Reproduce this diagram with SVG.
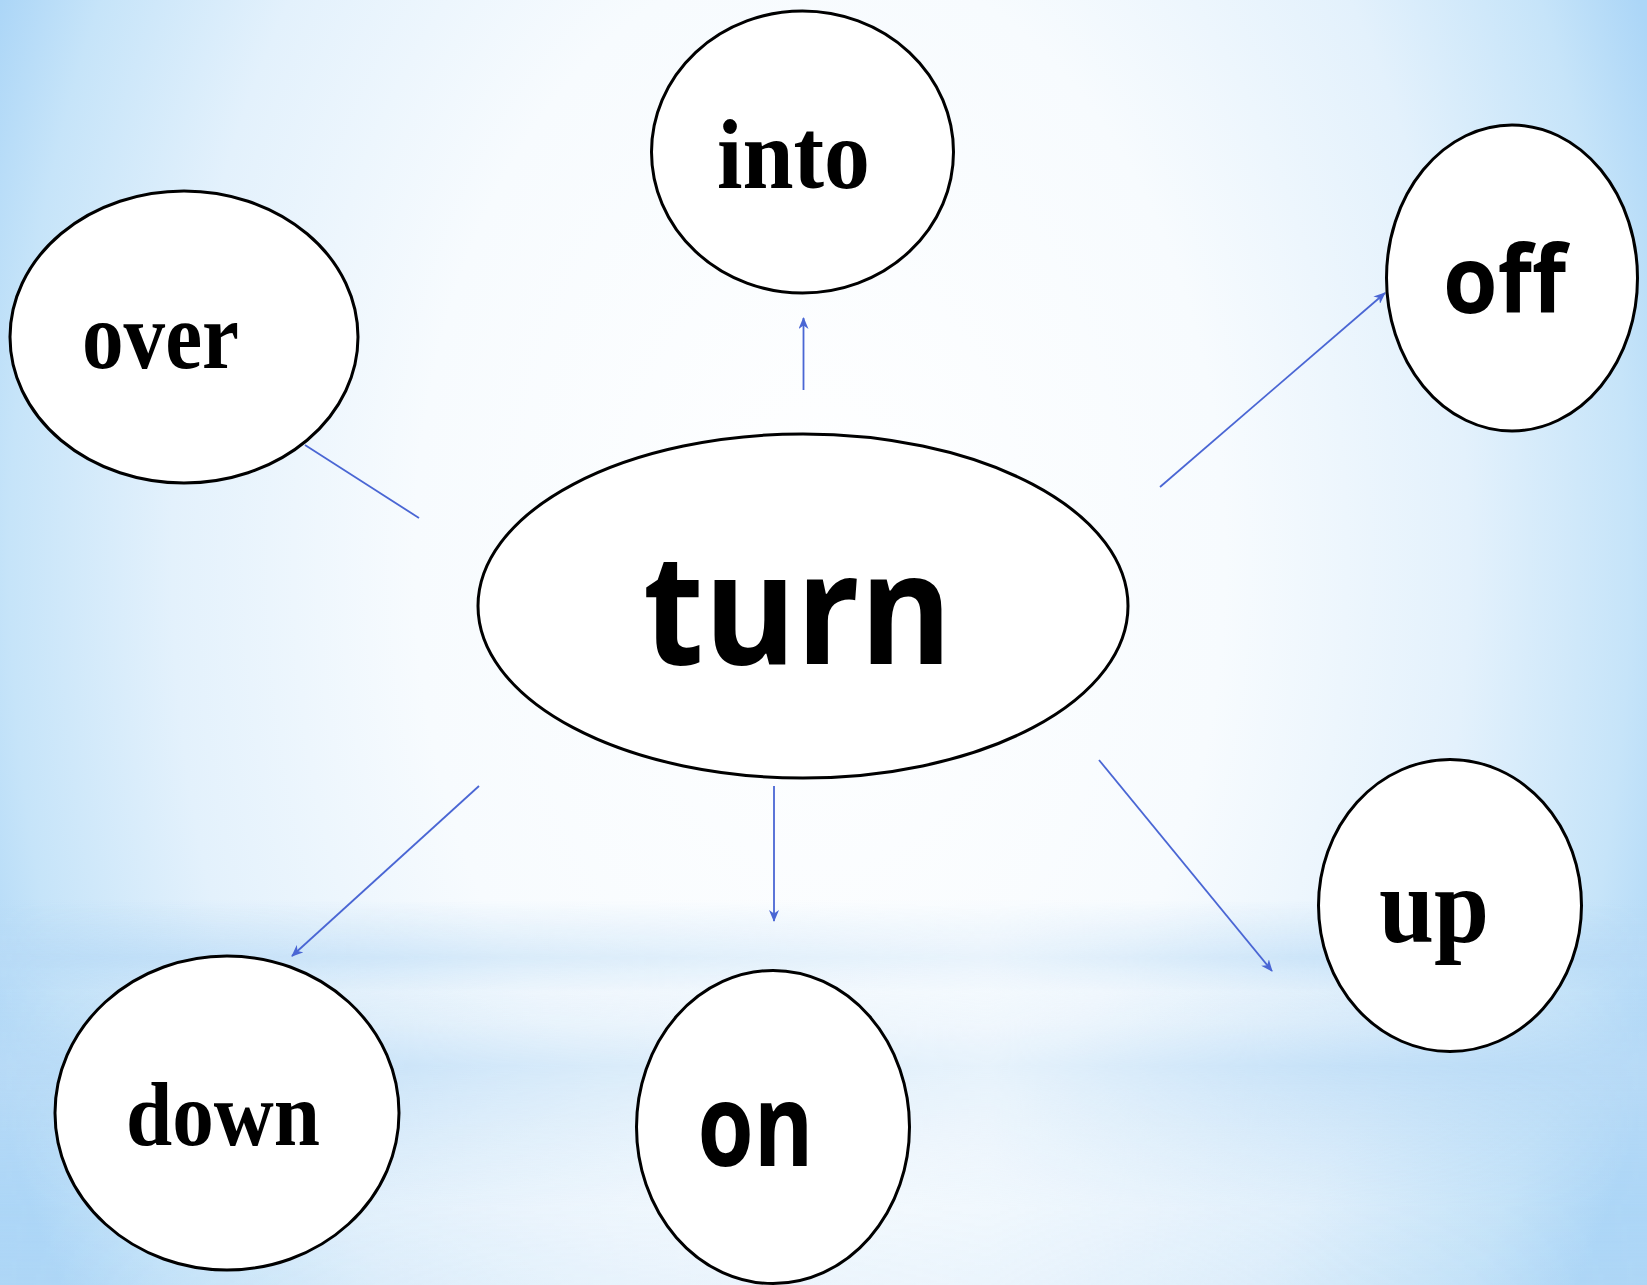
<svg xmlns="http://www.w3.org/2000/svg" width="1647" height="1285" viewBox="0 0 1647 1285">
<defs>
<radialGradient id="bg" cx="820" cy="560" r="900" gradientUnits="userSpaceOnUse" gradientTransform="translate(820 560) scale(1 1.5) translate(-820 -560)">
<stop offset="0" stop-color="#ffffff"/>
<stop offset="0.45" stop-color="#f7fbfe"/>
<stop offset="0.72" stop-color="#e3f1fc"/>
<stop offset="0.9" stop-color="#c6e4f9"/>
<stop offset="1" stop-color="#acd6f7"/>
</radialGradient>
<linearGradient id="band" x1="0" y1="900" x2="0" y2="1285" gradientUnits="userSpaceOnUse">
<stop offset="0" stop-color="#b8daf6" stop-opacity="0"/>
<stop offset="0.15" stop-color="#b8daf6" stop-opacity="0.8"/>
<stop offset="0.24" stop-color="#b8daf6" stop-opacity="0.25"/>
<stop offset="0.32" stop-color="#b8daf6" stop-opacity="0.4"/>
<stop offset="0.43" stop-color="#b8daf6" stop-opacity="0.9"/>
<stop offset="0.6" stop-color="#b8daf6" stop-opacity="0.5"/>
<stop offset="0.8" stop-color="#b8daf6" stop-opacity="0.1"/>
<stop offset="1" stop-color="#b8daf6" stop-opacity="0.2"/>
</linearGradient>
<linearGradient id="bandmask" x1="0" y1="0" x2="1647" y2="0" gradientUnits="userSpaceOnUse">
<stop offset="0" stop-color="#fff" stop-opacity="1"/>
<stop offset="0.3" stop-color="#fff" stop-opacity="0.6"/>
<stop offset="0.6" stop-color="#fff" stop-opacity="0.3"/>
<stop offset="0.82" stop-color="#fff" stop-opacity="0.8"/>
<stop offset="1" stop-color="#fff" stop-opacity="1"/>
</linearGradient>
<mask id="m" maskUnits="userSpaceOnUse" x="0" y="0" width="1647" height="1285"><rect x="0" y="880" width="1647" height="405" fill="url(#bandmask)"/></mask>
<marker id="arr" viewBox="0 0 12 10" refX="11" refY="5" markerWidth="12" markerHeight="10" markerUnits="userSpaceOnUse" orient="auto">
<path d="M0,0 L12,5 L0,10 L3.5,5 Z" fill="#4a66d4"/>
</marker>
<style>
.node{fill:#ffffff;stroke:#000000;stroke-width:3}
.serif{font-family:"Liberation Serif","Times New Roman",serif;font-weight:bold;fill:#000}
.sans{font-family:"Open Sans","Noto Sans","DejaVu Sans",sans-serif;font-weight:bold;fill:#000}
.conn line{stroke:#4a66d4;stroke-width:1.8;fill:none}
</style>
</defs>
<rect x="0" y="0" width="1647" height="1285" fill="url(#bg)"/>
<rect x="0" y="880" width="1647" height="405" fill="url(#band)" mask="url(#m)"/>

<g id="connectors" class="conn">
<line x1="419" y1="518" x2="305" y2="445"/>
<line x1="803.5" y1="390" x2="803.5" y2="318" marker-end="url(#arr)"/>
<line x1="1160" y1="487" x2="1385" y2="293" marker-end="url(#arr)"/>
<line x1="479" y1="786" x2="292" y2="956" marker-end="url(#arr)"/>
<line x1="774" y1="786" x2="774" y2="921" marker-end="url(#arr)"/>
<line x1="1099" y1="760" x2="1272" y2="971" marker-end="url(#arr)"/>
</g>

<g id="node-into">
<ellipse class="node" cx="802.5" cy="152" rx="151" ry="141"/>
<text class="serif" x="717" y="188" font-size="100" textLength="153" lengthAdjust="spacingAndGlyphs">into</text>
</g>
<g id="node-off">
<ellipse class="node" cx="1512" cy="278" rx="125.5" ry="153"/>
<text class="sans" x="1443" y="313" font-size="93" textLength="123" lengthAdjust="spacingAndGlyphs">off</text>
</g>
<g id="node-over">
<ellipse class="node" cx="184" cy="337" rx="174" ry="146"/>
<text class="serif" x="82" y="368" font-size="96" textLength="157" lengthAdjust="spacingAndGlyphs">over</text>
</g>
<g id="node-turn">
<ellipse class="node" cx="803" cy="606" rx="325" ry="172"/>
<text class="sans" x="643" y="664" font-size="155" textLength="309" lengthAdjust="spacingAndGlyphs">turn</text>
</g>
<g id="node-down">
<ellipse class="node" cx="227" cy="1113" rx="172" ry="157"/>
<text class="serif" x="126" y="1145" font-size="92" textLength="194" lengthAdjust="spacingAndGlyphs">down</text>
</g>
<g id="node-on">
<ellipse class="node" cx="773" cy="1127" rx="136.5" ry="156.5"/>
<text class="sans" x="697.5" y="1166" font-size="115" textLength="116" lengthAdjust="spacingAndGlyphs">on</text>
</g>
<g id="node-up">
<ellipse class="node" cx="1450" cy="905.5" rx="131.5" ry="146"/>
<text class="serif" x="1379" y="942" font-size="108" textLength="110" lengthAdjust="spacingAndGlyphs">up</text>
</g>
</svg>
